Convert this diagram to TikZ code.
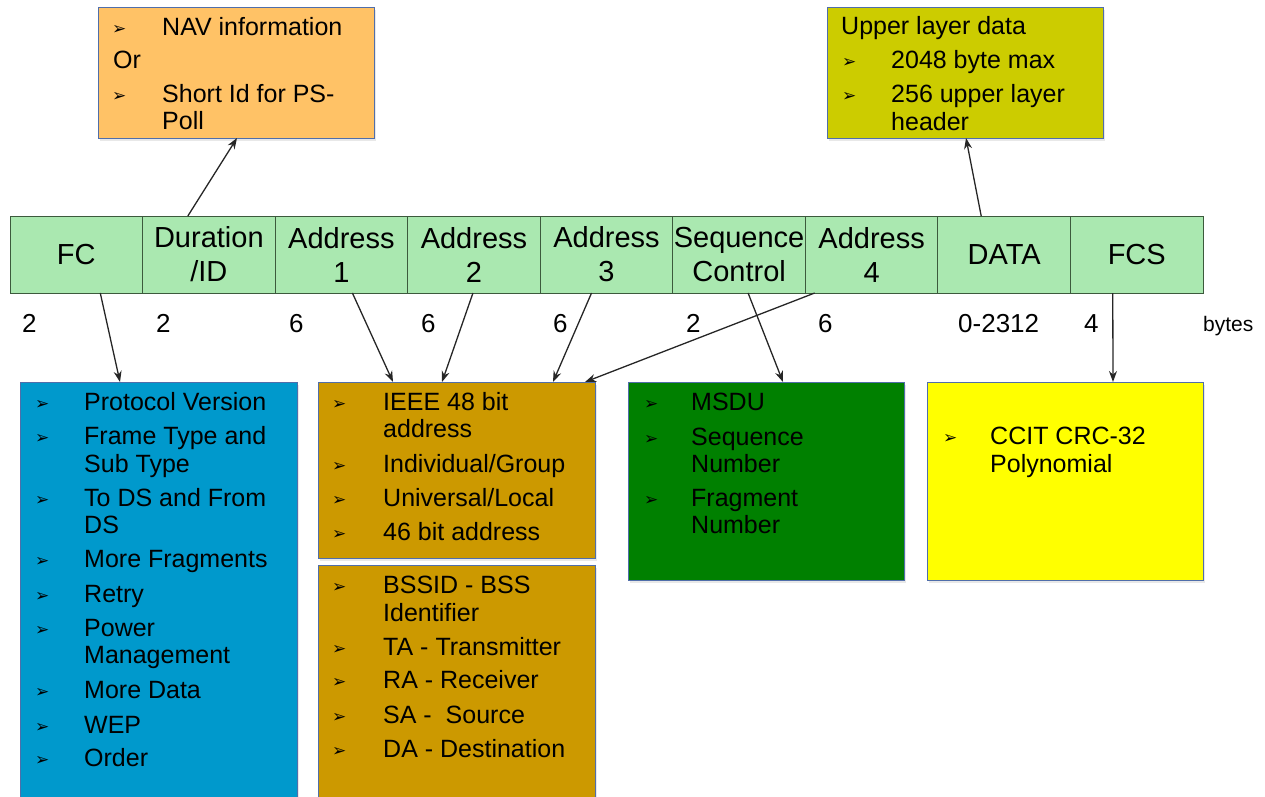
\documentclass[tikz,border=0pt]{standalone}
\usepackage{fontspec}
\setmainfont{Liberation Sans}
\newfontfamily\dejavu{DejaVu Sans}
\usetikzlibrary{arrows.meta,shadows}

\definecolor{fieldfill}{RGB}{170,232,176}
\definecolor{fieldline}{RGB}{60,90,60}
\definecolor{boxline}{RGB}{80,110,170}
\definecolor{navfill}{RGB}{255,194,102}
\definecolor{upperfill}{RGB}{204,204,0}
\definecolor{bluefill}{RGB}{0,153,204}
\definecolor{addrfill}{RGB}{204,153,0}
\definecolor{greenfill}{RGB}{0,128,0}
\definecolor{yellowfill}{RGB}{255,255,0}

\newcommand\fieldfont{\fontsize{29}{34}\selectfont}
\newcommand\itemfont{\fontsize{25}{28}\selectfont}
\newcommand\numfont{\fontsize{26}{26}\selectfont}
\newcommand\bulletmark{{\dejavu\fontsize{17}{17}\selectfont\char"27A2}}

\begin{document}
\begin{tikzpicture}[x=1pt,y=-1pt,
  field/.style={draw=fieldline, line width=1pt, fill=fieldfill,
    minimum width=132.56pt, minimum height=77pt, inner sep=0pt,
    outer sep=0pt, font=\fieldfont, align=center},
  infobox/.style={draw=boxline, line width=0.8pt, inner sep=0pt,
    outer sep=0pt, anchor=north west,
    drop shadow={opacity=0.18, shadow xshift=1.5pt, shadow yshift=-2.5pt}},
  itemtext/.style={anchor=base west, inner sep=0pt, font=\itemfont},
  bulletnode/.style={anchor=base west, inner sep=0pt, yshift=1pt},
  num/.style={anchor=base west, inner sep=0pt, font=\numfont},
  arr/.style={-{Stealth[length=11pt,width=8pt]}, line width=1.3pt, draw=black!85}]

\useasboundingbox (0,0) rectangle (1265,796);

% ---------- frame fields ----------
\foreach \name/\label [count=\i from 0] in
  {fc/FC, dur/{Duration\\/ID}, aone/{Address\\1}, atwo/{Address\\2},
   athree/{Address\\3}, seq/{Sequence\\Control}, afour/{Address\\4},
   data/DATA, fcs/FCS}
  \node[field] (\name) at ({76.28+132.56*\i},254.5) {\label};

% ---------- field sizes ----------
\node[num] (nfc)    at (22,332)   {2};
\node[num] (ndur)   at (156,332)  {2};
\node[num] (naone)  at (289,332)  {6};
\node[num] (natwo)  at (421,332)  {6};
\node[num] (nathree) at (553,332) {6};
\node[num] (nseq)   at (686,332)  {2};
\node[num] (nafour) at (818,332)  {6};
\node[num] (ndata)  at (958,332)  {0-2312};
\node[num] (nfcs)   at (1084,332) {4};
\node[anchor=base west, inner sep=0pt, font=\fontsize{21}{21}\selectfont]
  (unit) at (1203,331) {bytes};

% ---------- upper boxes ----------
\node[infobox, fill=navfill, minimum width=276pt, minimum height=131pt]
  (nav) at (98,7) {};
\node[bulletnode] (nav-b1) at (112,35) {\bulletmark};
\node[itemtext] (nav-t1) at (162,35) {NAV information};
\node[itemtext] (nav-or) at (113,68) {Or};
\node[bulletnode] (nav-b2) at (112,102) {\bulletmark};
\node[itemtext] (nav-t2) at (162,102) {Short Id for PS-};
\node[itemtext] (nav-t3) at (162,129) {Poll};

\node[infobox, fill=upperfill, minimum width=276pt, minimum height=131pt]
  (upper) at (827,7) {};
\node[itemtext] (upper-h) at (841,34) {Upper layer data};
\node[bulletnode] (upper-b1) at (842,68) {\bulletmark};
\node[itemtext] (upper-t1) at (891,68) {2048 byte max};
\node[bulletnode] (upper-b2) at (842,102) {\bulletmark};
\node[itemtext] (upper-t2) at (891,102) {256 upper layer};
\node[itemtext] (upper-t3) at (891,130) {header};

% ---------- frame control box ----------
\node[infobox, fill=bluefill, minimum width=277pt, minimum height=416pt]
  (fcbox) at (20,382) {};
\foreach \t/\yy [count=\k] in
  {Protocol Version/410, Frame Type and/444, Sub Type/472,
   To DS and From/506, DS/533, More Fragments/567, Retry/602,
   Power/636, Management/663, More Data/698, WEP/733, Order/766}
  \node[itemtext] (fcbox-t\k) at (84,\yy) {\t};
\foreach \yy [count=\k] in {410,444,506,567,602,636,698,733,766}
  \node[bulletnode] (fcbox-b\k) at (35,\yy) {\bulletmark};

% ---------- address boxes ----------
\node[infobox, fill=addrfill, minimum width=277pt, minimum height=176pt]
  (addra) at (318,382) {};
\foreach \t/\yy [count=\k] in
  {IEEE 48 bit/410, address/437, {Individual/Group}/472,
   {Universal/Local}/506, 46 bit address/540}
  \node[itemtext] (addra-t\k) at (383,\yy) {\t};
\foreach \yy [count=\k] in {410,472,506,540}
  \node[bulletnode] (addra-b\k) at (332,\yy) {\bulletmark};

\node[infobox, fill=addrfill, minimum width=277pt, minimum height=233pt]
  (addrb) at (318,565) {};
\foreach \t/\yy [count=\k] in
  {BSSID - BSS/593, Identifier/621, TA - Transmitter/655,
   RA - Receiver/688, {SA -\ \ Source}/723, DA - Destination/757}
  \node[itemtext] (addrb-t\k) at (383,\yy) {\t};
\foreach \yy [count=\k] in {593,655,688,723,757}
  \node[bulletnode] (addrb-b\k) at (332,\yy) {\bulletmark};

% ---------- sequence control box ----------
\node[infobox, fill=greenfill, minimum width=276pt, minimum height=198pt]
  (seqbox) at (628,382) {};
\foreach \t/\yy [count=\k] in
  {MSDU/410, Sequence/445, Number/472, Fragment/506, Number/533}
  \node[itemtext] (seqbox-t\k) at (691,\yy) {\t};
\foreach \yy [count=\k] in {410,445,506}
  \node[bulletnode] (seqbox-b\k) at (644,\yy) {\bulletmark};

% ---------- checksum box ----------
\node[infobox, fill=yellowfill, minimum width=276pt, minimum height=198pt]
  (fcsbox) at (927,382) {};
\node[bulletnode] (fcsbox-b1) at (943,444) {\bulletmark};
\node[itemtext] (fcsbox-t1) at (990,444) {CCIT CRC-32};
\node[itemtext] (fcsbox-t2) at (990,472) {Polynomial};

% ---------- connectors ----------
\draw[arr] ([xshift=-21pt]dur.north) -- ([xshift=1pt]nav.south);
\draw[arr] ([xshift=-23pt]data.north) -- ([xshift=1pt]upper.south);
\draw[arr] ([xshift=24pt]fc.south) -- ([xshift=-38.5pt]fcbox.north);
\draw[arr] ([xshift=11pt]aone.south) -- ([xshift=-63.5pt]addra.north);
\draw[arr] ([xshift=-1pt]atwo.south) -- ([xshift=-14.5pt]addra.north);
\draw[arr] ([xshift=-15pt]athree.south) -- ([xshift=96.5pt]addra.north);
\draw[arr] ([xshift=-57pt]afour.south) -- ([xshift=-10pt]addra.north east);
\draw[arr] ([xshift=9pt]seq.south) -- ([xshift=17pt]seqbox.north);
\draw[arr] ([xshift=-24pt]fcs.south) -- ([xshift=48pt]fcsbox.north);
\end{tikzpicture}
\end{document}
